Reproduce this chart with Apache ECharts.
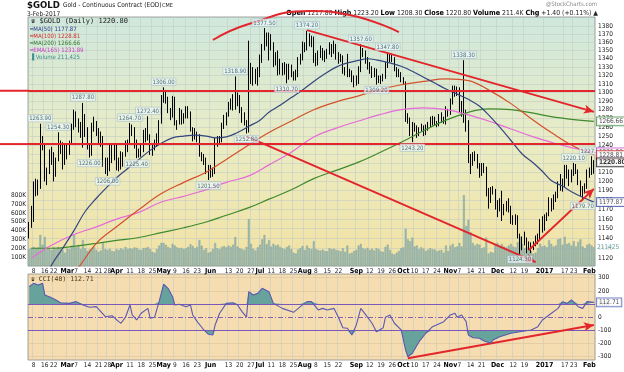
<!DOCTYPE html>
<html><head><meta charset="utf-8">
<script src="https://cdn.jsdelivr.net/npm/echarts@6/dist/echarts.min.js"></script>
<style>html,body{margin:0;padding:0;background:#fff}#c{width:624px;height:372px}</style>
</head><body><div id="c"></div>
<script>
// ---- trading calendar (categories) ----
const holidays = ['2016-02-15','2016-03-25','2016-05-30','2016-07-04','2016-09-05','2016-11-24','2016-12-26','2017-01-02','2017-01-16'];
const firstDay = '2016-02-04', lastDay = '2017-02-03';
const dates = [];
for (let d = new Date(firstDay + 'T12:00:00Z'); d <= new Date(lastDay + 'T12:00:00Z'); d.setUTCDate(d.getUTCDate() + 1)) {
  const wd = d.getUTCDay(), s = d.toISOString().slice(0, 10);
  if (wd > 0 && wd < 6 && !holidays.includes(s)) dates.push(s);
}
// ---- x tick labels ----
const tickLabels = [['2016-02-08','8'],['2016-02-16','16'],['2016-02-22','22'],['2016-03-01','Mar'],['2016-03-07','7'],['2016-03-14','14'],['2016-03-21','21'],['2016-03-28','28'],['2016-04-01','Apr'],['2016-04-11','11'],['2016-04-18','18'],['2016-04-25','25'],['2016-05-02','May'],['2016-05-09','9'],['2016-05-16','16'],['2016-05-23','23'],['2016-06-01','Jun'],['2016-06-13','13'],['2016-06-20','20'],['2016-06-27','27'],['2016-07-01','Jul'],['2016-07-11','11'],['2016-07-18','18'],['2016-07-25','25'],['2016-08-01','Aug'],['2016-08-08','8'],['2016-08-15','15'],['2016-08-22','22'],['2016-09-01','Sep'],['2016-09-12','12'],['2016-09-19','19'],['2016-09-26','26'],['2016-10-03','Oct'],['2016-10-10','10'],['2016-10-17','17'],['2016-10-24','24'],['2016-11-01','Nov'],['2016-11-07','7'],['2016-11-14','14'],['2016-11-21','21'],['2016-12-01','Dec'],['2016-12-12','12'],['2016-12-19','19'],['2017-01-03','2017'],['2017-01-17','17'],['2017-01-23','23'],['2017-02-01','Feb']];
const priceTicks = [1120,1130,1140,1150,1160,1170,1180,1190,1200,1210,1220,1230,1240,1250,1260,1270,1280,1290,1300,1310,1320,1330,1340,1350,1360,1370,1380];
const volTicks = [100,200,300,400,500,600,700,800];
const cciTicks = [-300,-200,-100,0,100,200,300];
// ---- daily OHLC ----
const opens = [
1141,1155,1158,1198,1190,1195,1247,1239,1208,1210,1231,1230,1209,1223,1238,1240,1220,
1238,1231,1241,1259,1271,1264,1262,1257,1272,1259,1237,1232,1262,1265,1255,1245,1248,1221,1222,1219,1237,1224,
1235,1222,1218,1228,1225,1238,1243,1257,1258,1244,1229,1234,1235,1254,1247,1250,1232,1237,1242,1250,1266,
1290,1296,1291,1279,1276,1293,1264,1265,1277,1266,1272,1274,1276,1257,1254,1252,1249,1229,1226,1223,1216,
1215,1214,1210,1244,1246,1245,1263,1267,1275,1285,1286,1294,1297,1294,1280,1271,1266,1258,1315,1326,1321,1318,
1322,1340,1356,1366,1360,1366,1357,1336,1344,1334,1327,1330,1332,1318,1330,1323,1318,1321,1340,1342,
1357,1354,1367,1363,1363,1344,1334,1345,1351,1342,1345,1348,1356,1348,1357,1347,1339,1343,1326,1324,1323,1324,1318,
1311,1317,1326,1350,1347,1336,1332,1328,1321,1325,1318,1312,1318,1318,1331,1339,1341,1337,1327,1322,1323,
1315,1312,1269,1268,1253,1258,1260,1253,1257,1258,1252,1260,1262,1268,1271,1265,1262,1273,1268,1270,1276,
1276,1288,1306,1298,1304,1280,1276,1274,1266,1225,1221,1226,1226,1216,1208,1213,1214,1187,1180,1191,1189,
1173,1170,1177,1169,1170,1175,1171,1159,1158,1160,1142,1130,1137,1139,1132,1133,1130,1133,1139,1140,1158,
1152,1162,1165,1180,1173,1185,1185,1196,1201,1196,1216,1212,1201,1210,1216,1211,1198,1190,1190,1195,
1210,1208,1217.8];
const highs = [
1157,1174,1200,1203,1202,1263.9,1250,1240,1215,1235,1238,1232,1226,1254.3,1245,1243,1241,
1242,1245,1264,1280,1278,1270,1266,1287.8,1275,1260,1240,1265,1272,1267,1259,1255,1250,1226,1226,1240,1242,1240,
1240,1226,1233,1232,1245,1246,1264.7,1263,1260,1246,1236,1240,1257,1259,1272.4,1252,1240,1246,1253,1268,1297,
1306,1303,1295,1282,1296,1295,1268,1282,1280,1276,1284,1284,1278,1260,1259,1255,1252,1232,1230,1226,1218,
1218,1215,1248,1250,1250,1265,1274,1277,1289,1293,1298,1318.9,1300,1297,1283,1277,1268,1362,1335,1330,1328,1330,
1345,1358,1377.5,1372,1372,1370,1360,1348,1350,1340,1335,1336,1334,1334,1333,1325,1327,1342,1346,1361,
1360,1374.2,1371,1368,1367,1347,1350,1356,1353,1350,1352,1360,1358,1362,1358,1348,1346,1344,1330,1346,1328,1326,1320,
1320,1331,1357.6,1353,1350,1342,1336,1331,1329,1328,1320,1320,1322,1336,1347.8,1346,1346,1342,1330,1328,1324,
1318,1313,1276,1271,1266,1265,1262,1260,1264,1262,1263,1266,1272,1273,1272,1267,1275,1277,1272,1284,1281,
1293,1308,1308,1307,1306,1290,1338.3,1280,1268,1230,1232,1233,1230,1220,1220,1220,1216,1193,1194,1195,1192,
1180,1182,1190,1176,1179,1182,1174,1164,1165,1164,1145,1142,1147,1141,1137,1136,1137,1143,1145,1160,1163,
1165,1167,1183,1182,1186,1189,1200,1208,1203,1218,1218,1213,1213,1220.1,1219,1213,1201,1195,1198,1213,
1215,1227.5,1223.2];
const lows = [
1140,1151,1157,1184,1185,1192,1234,1200,1196,1208,1218,1200,1205,1222,1230,1213,1218,
1224,1229,1240,1257,1260,1254,1248,1237,1249,1235,1226,1228,1255,1250,1240,1238,1216,1208,1206,1211,1220,1223,
1212,1211,1213,1216,1227,1232,1240,1250,1236,1225.4,1226,1227,1232,1243,1245,1229,1228,1234,1238,1241,1264,
1288,1287,1276,1268,1271,1262,1257,1263,1263,1264,1270,1270,1255,1244,1246,1243,1227,1222,1218,1208,1201.5,
1204,1205,1208,1238,1240,1243,1258,1262,1272,1280,1279,1280,1284,1276,1265,1262,1252.8,1254,1310,1308,1310,1308,
1318,1335,1350,1355,1338,1350,1330,1332,1320,1321,1320,1321,1310.7,1315,1318,1314,1314,1318,1333,1338,
1348,1350,1355,1354,1335,1331,1332,1341,1338,1336,1340,1345,1342,1346,1339,1334,1336,1322,1320,1318,1318,1312,1306,
1308,1310,1324,1342,1334,1327,1322,1317,1318,1309.2,1311,1310,1313,1316,1329,1336,1336,1325,1318,1318,1312,
1309,1266,1264,1250,1243.2,1255,1248,1250,1255,1250,1251,1256,1260,1262,1262,1260,1261,1265,1264,1263,1272,
1274,1286,1295,1296,1276,1272,1265,1255,1220,1208,1217,1222,1214,1204,1206,1209,1184,1171,1177,1186,1170,
1162,1168,1158,1164,1168,1167,1155,1154,1154,1140,1124.3,1128,1133,1125,1128,1125,1128,1132,1134,1139,1146,
1148,1158,1163,1168,1170,1178,1182,1190,1189,1194,1203,1195,1199,1206,1208,1196,1184,1179.7,1187,1192,
1204,1207,1208.3];
const closes = [
1155,1158,1198,1190,1195,1247,1239,1208,1210,1231,1230,1209,1223,1238,1240,1220,1238,
1231,1241,1259,1271,1264,1262,1257,1272,1259,1237,1232,1262,1265,1255,1245,1248,1221,1222,1219,1237,1224,1235,
1222,1218,1228,1225,1238,1243,1257,1259,1244,1229,1234,1235,1254,1247,1250,1232,1237,1242,1250,1266,1290,
1296,1291,1279,1276,1293,1264,1265,1277,1266,1272,1274,1276,1257,1254,1252,1249,1229,1226,1223,1216,1215,
1214,1210,1244,1246,1245,1263,1267,1275,1285,1286,1294,1297,1294,1280,1271,1266,1258,1315,1326,1321,1318,1322,
1340,1356,1366,1360,1366,1357,1336,1344,1334,1327,1330,1332,1318,1330,1323,1318,1321,1340,1342,1357,
1354,1367,1363,1363,1344,1334,1345,1351,1342,1345,1348,1356,1348,1357,1347,1339,1343,1326,1324,1323,1324,1318,1311,
1317,1326,1350,1347,1336,1332,1328,1321,1325,1318,1312,1318,1318,1331,1339,1341,1337,1327,1322,1323,1315,
1312,1269,1268,1253,1258,1260,1253,1257,1258,1252,1260,1262,1268,1271,1265,1262,1273,1268,1270,1276,1276,
1288,1306,1298,1304,1280,1276,1274,1266,1225,1221,1226,1226,1216,1208,1213,1214,1187,1180,1191,1189,1173,
1170,1177,1169,1170,1175,1171,1159,1158,1160,1142,1130,1137,1139,1132,1133,1130,1133,1139,1140,1158,1152,
1162,1165,1180,1173,1185,1185,1196,1201,1196,1216,1212,1201,1210,1216,1211,1198,1190,1190,1195,1210,
1208,1219,1220.8];
// ---- daily volume (thousands) ----
const volK = [
190,205,215,200,210,350,240,327,215,200,180,210,190,214,200,180,150,
195,190,230,350,210,237,190,293,200,170,185,200,215,180,160,175,260,190,180,195,170,165,
190,180,200,185,215,190,200,195,210,205,185,180,200,205,215,190,160,150,190,230,260,
260,240,215,200,250,230,210,200,205,190,200,215,245,225,200,215,293,230,180,200,150,
160,190,260,200,190,215,225,210,230,215,240,327,220,200,190,180,215,530,250,195,175,210,
240,300,350,245,290,220,250,230,240,215,200,190,215,230,190,150,140,185,200,225,
180,230,200,190,280,190,180,175,185,170,165,200,190,195,180,175,165,200,160,230,140,150,170,
180,230,250,200,190,205,180,195,175,200,190,165,160,215,240,180,140,130,150,170,200,
210,420,300,280,320,220,230,190,210,195,170,185,200,190,185,165,175,180,150,230,170,
230,250,210,220,260,220,800,450,520,380,260,230,250,240,200,210,320,140,160,150,250,
260,230,250,220,210,230,250,220,210,270,330,250,200,210,180,170,140,150,200,250,220,
230,210,290,250,220,230,300,310,240,330,250,260,230,280,220,270,300,220,200,240,
250,230,211.4];
// ---- moving averages ----
const maWeekly = ['2016-02-05','2016-02-12','2016-02-19','2016-02-26','2016-03-04','2016-03-11','2016-03-18','2016-03-24','2016-04-01','2016-04-08','2016-04-15','2016-04-22','2016-04-29','2016-05-06','2016-05-13','2016-05-20','2016-05-27','2016-06-03','2016-06-10','2016-06-17','2016-06-24','2016-07-01','2016-07-08','2016-07-15','2016-07-22','2016-07-29','2016-08-05','2016-08-12','2016-08-19','2016-08-26','2016-09-02','2016-09-09','2016-09-16','2016-09-23','2016-09-30','2016-10-07','2016-10-14','2016-10-21','2016-10-28','2016-11-04','2016-11-11','2016-11-18','2016-11-25','2016-12-02','2016-12-09','2016-12-16','2016-12-23','2016-12-30','2017-01-06','2017-01-13','2017-01-20','2017-01-27','2017-02-03'];
const ma50 = [1082,1095,1113,1130,1148,1168,1182,1192,1204,1214,1224,1234,1242,1248,1250,1251,1250,1248,1249,1254,1261,1268,1277,1285,1294,1303,1313,1322,1330,1335,1338,1340,1338,1335,1331,1325,1318,1311,1304,1298,1292,1284,1274,1260,1245,1230,1220,1211,1201,1195,1189,1183,1177.87];
const maBiweekly = ['2016-02-05','2016-02-19','2016-03-04','2016-03-18','2016-04-01','2016-04-15','2016-04-29','2016-05-13','2016-05-27','2016-06-10','2016-06-24','2016-07-08','2016-07-22','2016-08-05','2016-08-19','2016-09-02','2016-09-16','2016-09-30','2016-10-14','2016-10-28','2016-11-11','2016-11-25','2016-12-09','2016-12-23','2017-01-06','2017-01-20','2017-02-03'];
const ma100 = [1075,1085,1105,1135,1152,1170,1187,1199,1210,1224,1240,1254,1267,1280,1289,1296,1303,1309,1313,1316,1314,1303,1287,1268,1254,1240,1228.81];
const ma200 = [1130,1130,1132,1135,1138,1141,1146,1151,1157,1164,1172,1181,1191,1203,1212,1221,1231,1243,1256,1268,1277,1281,1280,1276,1272,1269,1266.66];
const ema165 = [1120,1133,1144,1152,1160,1167,1178,1184,1191,1199,1206,1218,1232,1249,1259,1267,1274,1280,1282,1280,1274,1267,1258,1249,1243,1237,1231.89];
// ---- CCI(40) ----
const cciDates = ['2016-02-04','2016-02-08','2016-02-10','2016-02-12','2016-02-16','2016-02-18','2016-02-23','2016-02-25','2016-03-02','2016-03-07','2016-03-10','2016-03-15','2016-03-18','2016-03-22','2016-03-24','2016-03-30','2016-04-04','2016-04-05','2016-04-07','2016-04-11','2016-04-12','2016-04-14','2016-04-18','2016-04-21','2016-04-22','2016-04-26','2016-04-28','2016-05-02','2016-05-04','2016-05-06','2016-05-09','2016-05-11','2016-05-16','2016-05-18','2016-05-19','2016-05-23','2016-05-26','2016-05-31','2016-06-02','2016-06-03','2016-06-07','2016-06-10','2016-06-15','2016-06-17','2016-06-21','2016-06-23','2016-06-24','2016-06-28','2016-06-30','2016-07-05','2016-07-08','2016-07-12','2016-07-18','2016-07-25','2016-07-28','2016-08-02','2016-08-04','2016-08-09','2016-08-11','2016-08-15','2016-08-18','2016-08-22','2016-08-24','2016-08-26','2016-08-30','2016-09-01','2016-09-06','2016-09-09','2016-09-13','2016-09-15','2016-09-20','2016-09-21','2016-09-23','2016-09-27','2016-09-30','2016-10-04','2016-10-05','2016-10-07','2016-10-12','2016-10-17','2016-10-20','2016-10-27','2016-11-01','2016-11-03','2016-11-04','2016-11-08','2016-11-10','2016-11-11','2016-11-15','2016-11-18','2016-11-22','2016-11-28','2016-11-29','2016-12-02','2016-12-09','2016-12-15','2016-12-22','2016-12-28','2016-12-30','2017-01-05','2017-01-11','2017-01-13','2017-01-18','2017-01-20','2017-01-25','2017-01-27','2017-01-31','2017-02-03'];
const cciValues = [232,257,244,257,169,156,131,110,105,118,93,75,80,42,4,11,-34,-46,0,93,17,-21,30,67,-8,0,118,250,219,156,93,98,80,93,17,-34,-97,-130,-135,-59,30,105,110,93,42,0,194,169,181,219,194,105,67,37,80,118,118,55,67,55,67,0,-80,-84,-135,-59,67,0,-46,-110,-80,0,17,-46,-97,-249,-300,-274,-186,-122,-72,-34,17,30,0,17,-34,-135,-156,-160,-181,-198,-173,-148,-122,-110,-97,-72,-21,17,67,118,105,131,80,67,118,112.71];
// ---- annotations ----
const highNotes = [['2016-02-11',1263.9],['2016-02-24',1254.3],['2016-03-10',1287.8],['2016-04-11',1264.7],['2016-04-21',1272.4],['2016-05-02',1306.0],['2016-06-16',1318.9],['2016-07-06',1377.5],['2016-08-02',1374.2],['2016-09-06',1357.6],['2016-09-22',1347.8],['2016-11-09',1338.3],['2017-01-23',1220.1],['2017-02-02',1227.5]];
const lowNotes = [['2016-03-15',1226.0],['2016-03-28',1206.0],['2016-04-14',1225.4],['2016-05-31',1201.5],['2016-06-23',1252.8],['2016-07-20',1310.7],['2016-09-15',1309.2],['2016-10-07',1243.2],['2016-12-15',1124.3],['2017-01-27',1179.7]];
const levels = [1302, 1241];
const trendLines = [['2016-08-02',1375,'2017-02-03',1277.5],['2016-06-23',1249.6,'2016-12-27',1116],['2016-12-21',1128.2,'2017-02-03',1192]];
const arcDates = ['2016-06-02','2016-06-24','2016-08-03','2016-08-29','2016-09-29'];
const arcVals = [1362.8,1382.5,1398.8,1393.8,1372.6];
const cciTrend = ['2016-10-05',-312,'2017-02-03',-59];
const tags = [[1231.89,'#c43cc4'],[1228.81,'#d42a2a'],[1266.66,'#3a8a3a'],[1177.87,'#2a44a8'],[1220.80,'#000000']];

// ---- build ----
const L = Math.log10;
const PMIN = 1112.1, PMAX = 1391.3;
const N = dates.length;
const idx = d => dates.indexOf(d);
const last = N - 1;
const FONT = "'Liberation Sans Narrow','DejaVu Sans Condensed','Liberation Sans',sans-serif";
const tickMap = {}; tickLabels.forEach(([d, t]) => tickMap[d] = t);
const RED = '#e3262b';

const xAx = gi => ({
  type: 'category', gridIndex: gi, data: dates, boundaryGap: true,
  axisLine: {show: false}, axisTick: {show: false},
  axisLabel: {interval: (i, v) => v in tickMap, margin: 2, fontSize: 6.5, color: '#222', fontFamily: FONT,
    formatter: v => { const t = tickMap[v] || ''; return /^\d{1,2}$/.test(t) ? t : '{b|' + t + '}'; },
    rich: {b: {fontWeight: 'bold', fontSize: 7, color: '#000', fontFamily: FONT}}},
  splitLine: {show: true, interval: (i, v) => v in tickMap, lineStyle: {color: '#c4ccc4', width: 0.6}}
});

const candles = dates.map((d, i) => [L(opens[i]), L(closes[i]), L(lows[i]), L(highs[i])]);
const noteLabel = {show: true, fontSize: 6, color: '#1d4f63', fontFamily: FONT, backgroundColor: 'rgba(240,248,248,0.85)', borderColor: '#9bb8c0', borderWidth: 0.5, padding: [1, 1, 0, 1], distance: 2};

const option = {
  animation: false,
  grid: [
    {left: 28, right: 29, top: 17, height: 249, show: true, borderColor: '#8c8c8c', borderWidth: 0.8,
      backgroundColor: {type: 'linear', x: 0, y: 0, x2: 0, y2: 1, colorStops: [{offset: 0, color: '#cfe8dd'}, {offset: 0.5, color: '#e9ecc4'}, {offset: 1, color: '#f3e2a2'}]}},
    {left: 28, right: 29, top: 274, height: 86, show: true, borderColor: '#8c8c8c', borderWidth: 0.8, backgroundColor: '#f6dcb1'}
  ],
  xAxis: [xAx(0), xAx(1)],
  yAxis: [
    {type: 'value', gridIndex: 0, position: 'right', min: L(PMIN), max: L(PMAX), splitLine: {show: false}, axisLine: {show: false}, axisTick: {show: false},
      axisLabel: {customValues: priceTicks.map(L), formatter: v => String(Math.round(Math.pow(10, v))), fontSize: 6.5, color: '#222', margin: 3, fontFamily: FONT}},
    {type: 'value', gridIndex: 0, position: 'left', min: 0, max: 2810, splitLine: {show: false}, axisLine: {show: false}, axisTick: {show: false},
      axisLabel: {customValues: volTicks, formatter: v => v + 'K', fontSize: 6.5, color: '#222', margin: 2, fontFamily: FONT}},
    {type: 'value', gridIndex: 1, position: 'right', min: -325, max: 328, splitLine: {show: false}, axisLine: {show: false}, axisTick: {show: false},
      axisLabel: {customValues: cciTicks, fontSize: 6.5, color: '#222', margin: 3, fontFamily: FONT}}
  ],
  series: [
    {name: 'Volume', type: 'bar', xAxisIndex: 0, yAxisIndex: 1, data: volK, barCategoryGap: '18%', silent: true, z: 2,
      itemStyle: {color: '#9dbbb4', borderColor: '#7a9c95', borderWidth: 0.4}},
    {name: 'Price', type: 'candlestick', xAxisIndex: 0, yAxisIndex: 0, data: candles, barMaxWidth: 2.2, silent: true, z: 3,
      itemStyle: {color: '#ffffff', color0: '#000000', borderColor: '#000000', borderColor0: '#000000', borderWidth: 1},
      markLine: {silent: true, z: 1, precision: 10, symbol: 'none', label: {show: false}, lineStyle: {color: '#c4ccc4', width: 0.6, type: 'solid'},
        data: priceTicks.map(t => ({yAxis: L(t)}))}},
    {name: 'MA200', type: 'line', xAxisIndex: 0, yAxisIndex: 0, data: maBiweekly.map((d, i) => [idx(d), L(ma200[i])]), smooth: 0.4, symbol: 'none', lineStyle: {color: '#3f8a2c', width: 1.2}, z: 4, silent: true},
    {name: 'EMA165', type: 'line', xAxisIndex: 0, yAxisIndex: 0, data: maBiweekly.map((d, i) => [idx(d), L(ema165[i])]), smooth: 0.4, symbol: 'none', lineStyle: {color: '#e66ad8', width: 1.2}, z: 4, silent: true},
    {name: 'MA100', type: 'line', xAxisIndex: 0, yAxisIndex: 0, data: maBiweekly.map((d, i) => [idx(d), L(ma100[i])]), smooth: 0.4, symbol: 'none', lineStyle: {color: '#d4502a', width: 1.2}, z: 4, silent: true},
    {name: 'MA50', type: 'line', xAxisIndex: 0, yAxisIndex: 0, data: maWeekly.map((d, i) => [idx(d), L(ma50[i])]), smooth: 0.4, symbol: 'none', lineStyle: {color: '#34467e', width: 1.2}, z: 4, silent: true},
    {name: 'Arc', type: 'line', xAxisIndex: 0, yAxisIndex: 0, data: arcDates.map((d, i) => [idx(d), L(arcVals[i])]), smooth: true, clip: false, symbol: 'none', lineStyle: {color: RED, width: 2}, z: 6, silent: true,
      markLine: {silent: true, z: 6, precision: 10, symbol: 'none', label: {show: false}, lineStyle: {color: RED, width: 2, type: 'solid'},
        data: levels.map(v => ({yAxis: L(v)})).concat(trendLines.map(t => [
          {coord: [idx(t[0]), L(t[1])], symbol: 'none'},
          {coord: [idx(t[2]), L(t[3])], symbol: 'arrow', symbolSize: [7, 10]}]))}},
    {name: 'Highs', type: 'scatter', xAxisIndex: 0, yAxisIndex: 0, symbolSize: 0, silent: true, z: 7,
      data: highNotes.map(([d, v]) => ({value: [idx(d), L(v)], label: Object.assign({}, noteLabel, {position: 'top', formatter: v.toFixed(2)})}))},
    {name: 'Lows', type: 'scatter', xAxisIndex: 0, yAxisIndex: 0, symbolSize: 0, silent: true, z: 7,
      data: lowNotes.map(([d, v]) => ({value: [idx(d), L(v)], label: Object.assign({}, noteLabel, {position: 'bottom', formatter: v.toFixed(2)})}))},
    {name: 'Tags', type: 'scatter', xAxisIndex: 0, yAxisIndex: 0, symbolSize: 0, silent: true, z: 8,
      data: tags.map(([v, c], k) => ({value: [last, L(v)], label: {show: true, position: 'right', distance: 3, formatter: v.toFixed(2), fontSize: 6.5, fontFamily: FONT,
        color: c === '#000000' ? '#000' : '#222', fontWeight: c === '#000000' ? 'bold' : 'normal', backgroundColor: '#ffffff', borderColor: c, borderWidth: 0.9, padding: [1, 2, 0, 2]}}))},
    {name: 'VolTag', type: 'scatter', xAxisIndex: 0, yAxisIndex: 1, symbolSize: 0, silent: true, z: 8,
      data: [{value: [last, volK[last]], label: {show: true, position: 'right', distance: 3, formatter: String(Math.round(volK[last] * 1000 + 25)), fontSize: 6.5, fontFamily: FONT, color: '#3c8a8a', backgroundColor: '#ffffff'}}]},
    // CCI panel
    {name: 'CCIup', type: 'line', xAxisIndex: 1, yAxisIndex: 2, data: cciDates.map((d, i) => [idx(d), Math.max(cciValues[i], 100)]), symbol: 'none', lineStyle: {width: 0, opacity: 0}, areaStyle: {color: '#5f9e9b', opacity: 0.95, origin: 100}, z: 2, silent: true,
      markLine: {silent: true, z: 1, symbol: 'none', label: {show: false}, lineStyle: {color: '#d8c4a0', width: 0.6, type: 'solid'}, data: [-300, -200, 200, 300].map(v => ({yAxis: v}))}},
    {name: 'CCIdn', type: 'line', xAxisIndex: 1, yAxisIndex: 2, data: cciDates.map((d, i) => [idx(d), Math.min(cciValues[i], -100)]), symbol: 'none', lineStyle: {width: 0, opacity: 0}, areaStyle: {color: '#5f9e9b', opacity: 0.95, origin: -100}, z: 2, silent: true},
    {name: 'CCI', type: 'line', xAxisIndex: 1, yAxisIndex: 2, data: cciDates.map((d, i) => [idx(d), cciValues[i]]), symbol: 'none', lineStyle: {color: '#5a58b0', width: 1.1}, z: 4, silent: true,
      markLine: {silent: true, z: 3, symbol: 'none', label: {show: false},
        data: [
          {yAxis: 100, lineStyle: {color: '#7a58b8', width: 1.2, type: 'solid'}},
          {yAxis: -100, lineStyle: {color: '#7a58b8', width: 1.2, type: 'solid'}},
          {yAxis: 0, lineStyle: {color: '#8a60b0', width: 1, type: [5, 2, 1, 2]}},
          [{coord: [idx(cciTrend[0]), cciTrend[1]], symbol: 'none', lineStyle: {color: RED, width: 2, type: 'solid'}},
           {coord: [idx(cciTrend[2]), cciTrend[3]], symbol: 'arrow', symbolSize: [7, 10], lineStyle: {color: RED, width: 2, type: 'solid'}}]
        ]}},
    {name: 'CCItag', type: 'scatter', xAxisIndex: 1, yAxisIndex: 2, symbolSize: 0, silent: true, z: 8,
      data: [{value: [last, cciValues[cciValues.length - 1]], label: {show: true, position: 'right', distance: 3, formatter: String(cciValues[cciValues.length - 1]), fontSize: 6.5, fontFamily: FONT, color: '#222', backgroundColor: '#ffffff', borderColor: '#4a5ab8', borderWidth: 0.9, padding: [1, 2, 0, 2]}}]}
  ],
  graphic: [
    {type: 'text', left: 27, top: 1, style: {text: '$GOLD', fontSize: 9.5, fontWeight: 'bold', fontFamily: FONT, fill: '#111'}},
    {type: 'text', left: 63, top: 2, style: {text: 'Gold - Continuous Contract (EOD)', fontSize: 6.5, fontFamily: FONT, fill: '#222'}},
    {type: 'text', left: 162, top: 3, style: {text: 'CME', fontSize: 5.5, fontFamily: FONT, fill: '#222'}},
    {type: 'text', left: 27, top: 11, style: {text: '3-Feb-2017', fontSize: 6.5, fontFamily: FONT, fill: '#222'}},
    {type: 'text', right: 27, top: 1, style: {text: '@StockCharts.com', fontSize: 6, fontFamily: FONT, fill: '#888'}},
    {type: 'text', right: 26, top: 10, style: {text: '{b|Open} 1217.80 {b|High} 1223.20 {b|Low} 1208.30 {b|Close} 1220.80 {b|Volume} 211.4K {b|Chg} +1.40 (+0.11%) \u25b2', fontSize: 6.8, fontFamily: FONT, fill: '#222', rich: {b: {fontWeight: 'bold', fontSize: 7.2, fontFamily: FONT, fill: '#000'}}}},
    {type: 'text', left: 31, top: 18, z: 10, style: {text: '\u265b $GOLD (Daily) 1220.80', fontSize: 7, fontFamily: "'DejaVu Sans Mono','Liberation Mono',monospace", fill: '#222'}},
    {type: 'text', left: 30, top: 26, z: 10, style: {text: '\u2501MA(50) 1177.87', fontSize: 6, fontFamily: FONT, fill: '#2a3c8a'}},
    {type: 'text', left: 30, top: 33, z: 10, style: {text: '\u2501MA(100) 1228.81', fontSize: 6, fontFamily: FONT, fill: '#d0302a'}},
    {type: 'text', left: 30, top: 40, z: 10, style: {text: '\u2501MA(200) 1266.66', fontSize: 6, fontFamily: FONT, fill: '#2e7a2e'}},
    {type: 'text', left: 30, top: 47, z: 10, style: {text: '\u2501EMA(165) 1231.89', fontSize: 6, fontFamily: FONT, fill: '#cc3acc'}},
    {type: 'text', left: 30, top: 54, z: 10, style: {text: '\u2590 Volume 211,425', fontSize: 6, fontFamily: FONT, fill: '#3f8f8f'}},
    {type: 'text', left: 31, top: 276, z: 10, style: {text: '\u265b CCI(40) 112.71', fontSize: 6.5, fontFamily: "'DejaVu Sans Mono','Liberation Mono',monospace", fill: '#4a3a1a'}}
  ]
};
const chart = echarts.init(document.getElementById('c'), null, {renderer: 'canvas'});
chart.setOption(option);
// extend the horizontal red levels to the left edge, positioned through the price scale
const ext = levels.map(v => {
  const y = chart.convertToPixel({yAxisIndex: 0}, L(v));
  return {type: 'line', shape: {x1: 0, y1: y, x2: 29, y2: y}, style: {stroke: RED, lineWidth: 2}, z: 10, silent: true};
});
chart.setOption({graphic: option.graphic.concat(ext)});
</script>
</body></html>
